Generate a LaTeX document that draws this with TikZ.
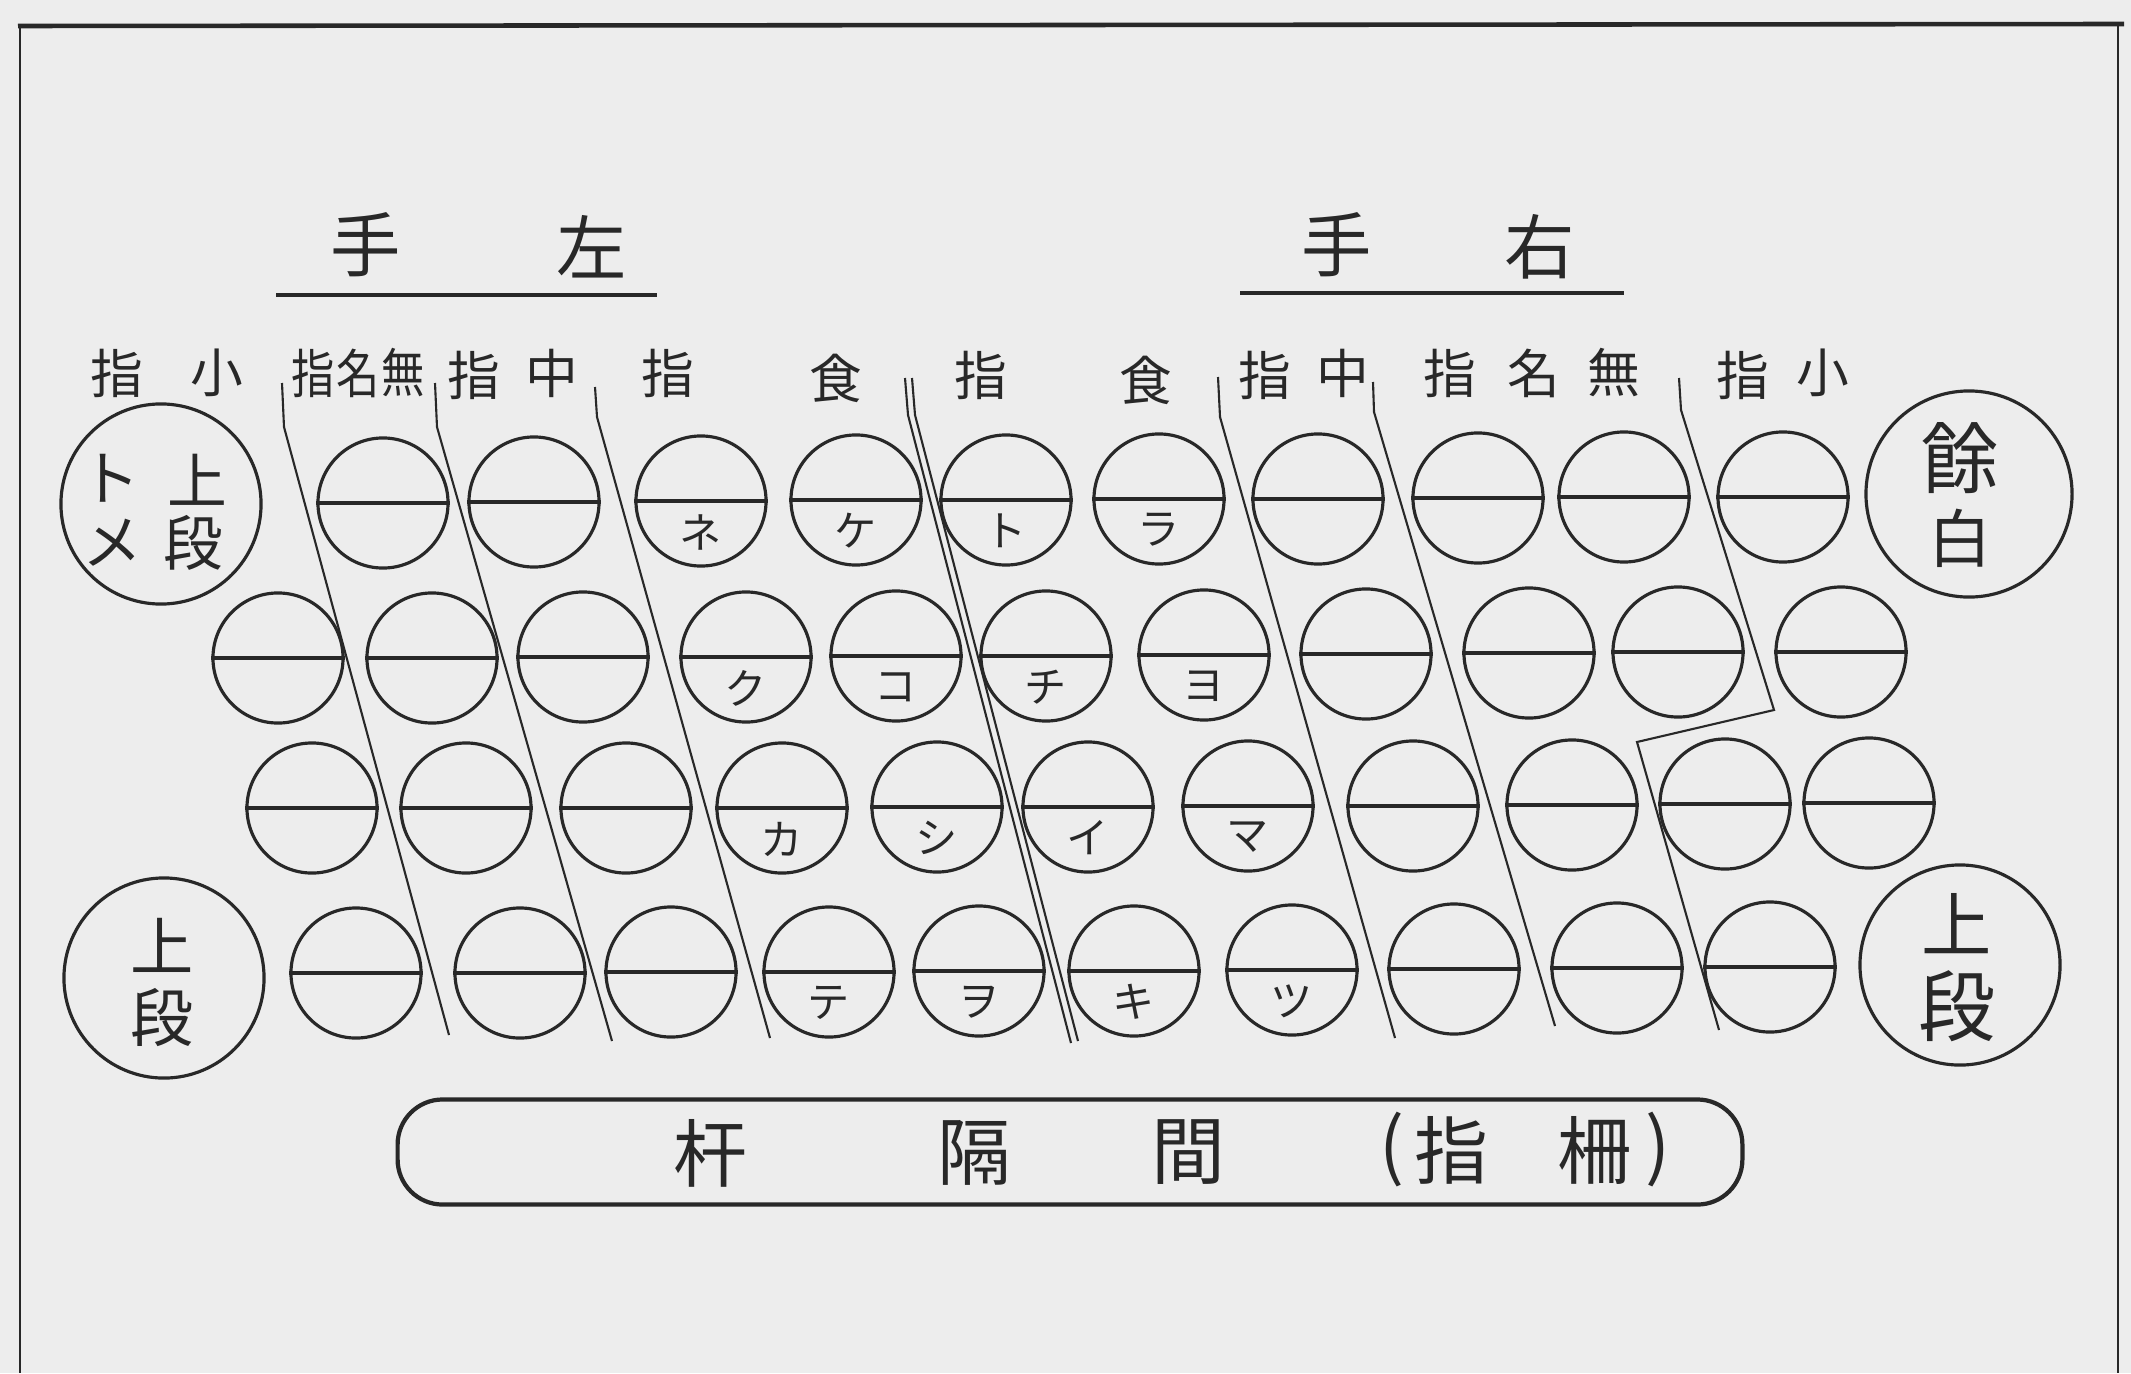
\documentclass[tikz,border=0pt]{standalone}
\usepackage{fontspec}
\newfontfamily\cjk{Noto Sans CJK JP}
\definecolor{paper}{RGB}{237,237,237}
\definecolor{ink}{RGB}{40,40,40}
\begin{document}
\begin{tikzpicture}[x=0.01cm,y=-0.01cm,
  keycirc/.style={circle,draw=ink,line width=0.9pt,minimum size=1.3cm,inner sep=0pt},
  bigcirc/.style={circle,draw=ink,line width=0.9pt,minimum size=2cm,inner sep=0pt},
  keyline/.style={draw=ink,line width=0.9pt},
  sepline/.style={draw=ink,line width=0.6pt},
  cjktext/.style={text=ink,inner sep=0pt},
  kana/.style={cjktext,font=\cjk\fontsize{12}{12}\selectfont},
  finger/.style={cjktext,font=\cjk\fontsize{15}{15}\selectfont},
  circtext/.style={cjktext,font=\cjk\fontsize{17}{17}\selectfont},
  head/.style={cjktext,font=\cjk\fontsize{20}{20}\selectfont},
  bartext/.style={cjktext,font=\cjk\fontsize{21}{21}\selectfont},
]
\fill[paper] (0,0) rectangle (2131,1373);
\useasboundingbox (0,0) rectangle (2131,1373);
% frame
\draw[ink,line width=1.3pt] (18,26) -- (2124,24);
\draw[ink,line width=0.8pt] (20,26) -- (20,1373);
\draw[ink,line width=0.8pt] (2118,24) -- (2118,1373);

% headings
\node[head] (hl1) at (366,245) {手};
\node[head] (hl2) at (592,247) {左};
\node[head] (hr1) at (1337,245) {手};
\node[head] (hr2) at (1540,247) {右};
\draw[ink,line width=1.3pt] (276,295) -- (657,295);
\draw[ink,line width=1.3pt] (1240,293) -- (1624,293);

% finger labels
\foreach \x/\y/\t [count=\i] in {117/373/指,217/373/小,474/375/指,552/373/中,668/373/指,836/378/食,
  981/375/指,1146/380/食,1265/375/指,1343/373/中,1450/373/指,1534/373/名,1614/373/無,1743/375/指,1823/373/小}{
  \node[finger] (fg\i) at (\x,\y) {\t};
}
\foreach \x/\t [count=\i] in {313/指,358/名,403/無}{
  \node[finger] (fn\i) at (\x,373) {\scalebox{0.82}[1]{\t}};
}

% key rows
\foreach \x/\y [count=\i] in {383/503,534/502,701/501,856/500,1006/500,1159/499,1318/499,1478/498,1624/497,1783/497}{
  \node[keycirc] (ra\i) at (\x,\y) {};
  \draw[keyline] (ra\i.west) -- (ra\i.east);
}
\foreach \x/\y [count=\i] in {278/658,432/658,583/657,746/657,896/656,1046/656,1204/655,1366/654,1529/653,1678/652,1841/652}{
  \node[keycirc] (rb\i) at (\x,\y) {};
  \draw[keyline] (rb\i.west) -- (rb\i.east);
}
\foreach \x/\y [count=\i] in {312/808,466/808,626/808,782/808,937/807,1088/807,1248/806,1413/806,1572/805,1725/804,1869/803}{
  \node[keycirc] (rc\i) at (\x,\y) {};
  \draw[keyline] (rc\i.west) -- (rc\i.east);
}
\foreach \x/\y [count=\i] in {356/973,520/973,671/972,829/972,979/971,1134/971,1292/970,1454/969,1617/968,1770/967}{
  \node[keycirc] (rd\i) at (\x,\y) {};
  \draw[keyline] (rd\i.west) -- (rd\i.east);
}

% kana on keys
\foreach \k/\t in {ra3/ネ,ra4/ケ,ra5/ト,ra6/ラ,rb4/ク,rb5/コ,rb6/チ,rb7/ヨ,rc4/カ,rc5/シ,rc6/イ,rc7/マ,rd4/テ,rd5/ヲ,rd6/キ,rd7/ツ}{
  \node[kana] (lb-\k) at ([yshift=-0.31cm]\k.center) {\t};
}

% big side circles
\node[bigcirc] (tlc) at (161,504) {};
\node[bigcirc] (blc) at (164,978) {};
\node[bigcirc,minimum size=2.06cm] (trc) at (1969,494) {};
\node[bigcirc] (brc) at (1960,965) {};
\node[circtext] (tl1) at (197,480) {上};
\node[circtext] (tl2) at (193,543) {段};
\node[circtext] (tl3) at (110,478) {ト};
\node[circtext] (tl4) at (112,543) {メ};
\node[circtext,font=\cjk\fontsize{18}{18}\selectfont] (bl1) at (162,945) {上};
\node[circtext,font=\cjk\fontsize{18}{18}\selectfont] (bl2) at (162,1018) {段};
\node[circtext,font=\cjk\fontsize{22}{22}\selectfont] (tr1) at (1960,458) {餘};
\node[circtext,font=\cjk\fontsize{18}{18}\selectfont] (tr2) at (1960,538) {白};
\node[circtext,font=\cjk\fontsize{20}{20}\selectfont] (br1) at (1957,924) {上};
\node[circtext,font=\cjk\fontsize{22}{22}\selectfont] (br2) at (1957,1006) {段};

% finger separators
\draw[sepline] (282,383) -- (284,427) -- (449,1035);
\draw[sepline] (435,383) -- (437,427) -- (612,1041);
\draw[sepline] (595,387) -- (597,417) -- (770,1038);
\draw[sepline] (905,378) -- (908,415) -- (1071,1043);
\draw[sepline] (912,378) -- (915,415) -- (1078,1041);
\draw[sepline] (1218,377) -- (1220,417) -- (1395,1038);
\draw[sepline] (1373,382) -- (1374,412) -- (1555,1026);
\draw[sepline] (1679,378) -- (1681,410) -- (1774,710) -- (1637,742) -- (1719,1030);

% space bar
\node[draw=ink,line width=1.2pt,rounded corners=0.45cm,minimum width=13.44cm,minimum height=1.05cm,inner sep=0pt] (bar) at (1070,1152) {};
\node[bartext] (b1) at (710,1153) {杆};
\node[bartext] (b2) at (974,1153) {隔};
\node[bartext] (b3) at (1188,1152) {間};
\node[bartext] (b4) at (1392,1150) {(};
\node[bartext] (b5) at (1451,1150) {指};
\node[bartext] (b6) at (1594,1150) {柵};
\node[bartext] (b7) at (1658,1150) {)};
\end{tikzpicture}
\end{document}
